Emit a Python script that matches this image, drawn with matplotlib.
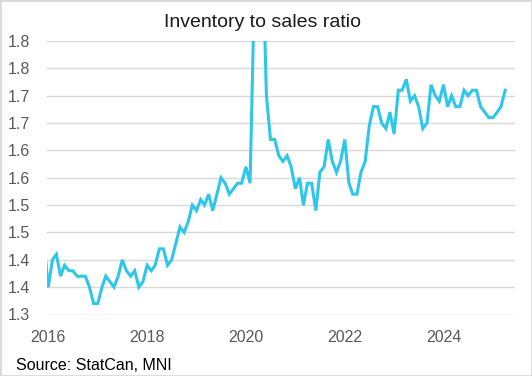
import numpy as np
import pandas as pd
import matplotlib
matplotlib.use("Agg")
import matplotlib.pyplot as plt
import matplotlib.dates as mdates
from matplotlib.patches import Rectangle

# Datos (ratio inventario/ventas, mensual desde dic-2015)
FECHA_INICIO = "2015-12-01"
ratios = [
    1.43,
    1.35, 1.40, 1.41, 1.37, 1.39, 1.38, 1.38, 1.37, 1.37, 1.37, 1.35, 1.32,  # 2016
    1.32, 1.35, 1.37, 1.36, 1.35, 1.37, 1.40, 1.38, 1.37, 1.38, 1.35, 1.36,  # 2017
    1.39, 1.38, 1.39, 1.42, 1.42, 1.39, 1.40, 1.43, 1.46, 1.45, 1.47, 1.50,  # 2018
    1.49, 1.51, 1.50, 1.52, 1.49, 1.52, 1.55, 1.54, 1.52, 1.53, 1.54, 1.54,  # 2019
    1.57, 1.54, 1.86, 2.25, 1.99, 1.70, 1.62, 1.62, 1.59, 1.58, 1.59, 1.57,  # 2020
    1.53, 1.55, 1.50, 1.54, 1.54, 1.49, 1.56, 1.57, 1.62, 1.58, 1.56, 1.58,  # 2021
    1.62, 1.54, 1.52, 1.52, 1.56, 1.58, 1.645, 1.68, 1.68, 1.65, 1.64, 1.67,  # 2022
    1.63, 1.71, 1.71, 1.73, 1.69, 1.70, 1.68, 1.64, 1.65, 1.72, 1.70, 1.69,  # 2023
    1.72, 1.68, 1.70, 1.68, 1.68, 1.71, 1.70, 1.71, 1.71, 1.68, 1.67, 1.66,  # 2024
    1.66, 1.67, 1.68, 1.71,  # 2025
]
fechas = pd.date_range(FECHA_INICIO, periods=len(ratios), freq="MS")

y_ticks = np.arange(1.30, 1.801, 0.05)
y_etiquetas = ["1.3", "1.4", "1.4", "1.5", "1.5", "1.6", "1.6", "1.7", "1.7", "1.8", "1.8"]

TITULO = "Inventory to sales ratio"
FUENTE = "Source: StatCan, MNI"

COLOR_LINEA = "#2ec7ea"
COLOR_GRILLA = "#d9d9d9"
COLOR_TEXTO = "#595959"

fig = plt.figure(figsize=(5.32, 3.76), dpi=100)
ax = fig.add_axes([46.5 / 532, 1 - 314.5 / 376, 468 / 532, 273.5 / 376])

ax.plot(fechas, ratios, color=COLOR_LINEA, linewidth=2.2, solid_joinstyle="miter")

ax.set_ylim(1.30, 1.80)
ax.set_yticks(y_ticks)
ax.set_yticklabels(y_etiquetas)
ax.set_xlim(pd.Timestamp("2015-12-19"), pd.Timestamp("2025-06-09"))
ax.xaxis.set_major_locator(mdates.YearLocator(2))
ax.xaxis.set_major_formatter(mdates.DateFormatter("%Y"))

ax.grid(axis="y", color=COLOR_GRILLA, linewidth=1.0)
ax.set_axisbelow(True)
for lado in ax.spines.values():
    lado.set_visible(False)
ax.tick_params(axis="both", length=0, colors=COLOR_TEXTO, labelsize=11.5)
ax.tick_params(axis="y", pad=12)
ax.tick_params(axis="x", pad=11)
for etiqueta in ax.get_xticklabels() + ax.get_yticklabels():
    etiqueta.set_family("Liberation Sans")

fig.text(262 / 532, 1 - 22.7 / 376, TITULO, ha="center", va="center",
         fontsize=14, color="#1a1a1a", family="Liberation Sans")
fig.text(16 / 532, 1 - 365 / 376, FUENTE, ha="left", va="center",
         fontsize=11.5, color="#000000", family="Liberation Sans")

# borde gris alrededor de la figura
fig.patches.append(Rectangle((0, 0), 1, 1, transform=fig.transFigure, fill=False,
                             edgecolor=COLOR_GRILLA, linewidth=2.0))

fig.savefig("out.png", dpi=100)
